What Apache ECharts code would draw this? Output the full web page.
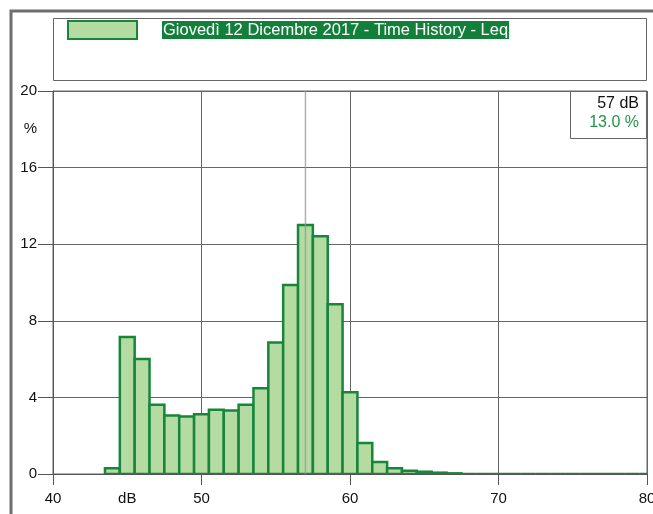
<!DOCTYPE html>
<html>
<head>
<meta charset="utf-8">
<script src="https://cdn.jsdelivr.net/npm/echarts@6/dist/echarts.min.js"></script>
<style>
html,body{margin:0;padding:0;background:#fff;}
#chart{width:653px;height:514px;}
</style>
</head>
<body>
<div id="chart"></div>
<script>
// ---- data ----
var seriesName = 'Giovedì 12 Dicembre 2017 - Time History - Leq';
var dbLevels = [44,45,46,47,48,49,50,51,52,53,54,55,56,57,58,59,60,61,62,63,64,65,66,67,68,69,70,71,72,73,74,75,76,77,78,79,80];
var percents = [0.3,7.15,6.0,3.62,3.05,3.0,3.12,3.35,3.32,3.62,4.48,6.87,9.87,13.0,12.42,8.87,4.27,1.62,0.63,0.3,0.17,0.12,0.07,0.035,0,0,0,0,0,0,0,0,0,0,0,0,0];
var xTickLabels = [40,50,60,70,80];
var yTickLabels = [0,4,8,12,16,20];
var xUnit = 'dB', yUnit = '%';
var xUnitAt = 45, yUnitAt = 18;
var cursorDb = 57, cursorPct = 13.0;

var barData = dbLevels.map(function(d,i){return [d, percents[i]];});
var cursorLine = [[cursorDb, 0],[cursorDb, 20]];

var fillGreen = '#b4dca2', strokeGreen = '#17853b';
var font = 'Liberation Sans, Arial, sans-serif';

var chart = echarts.init(document.getElementById('chart'));
chart.setOption({
  animation: false,
  backgroundColor: '#fff',
  textStyle: {fontFamily: font},
  graphic: [
    {type:'rect', z:-10, shape:{x:11, y:11, width:700, height:600}, style:{fill:'none', stroke:'#6e6e6e', lineWidth:3}},
    {type:'rect', z:-10, shape:{x:53.5, y:18.5, width:593, height:62}, style:{fill:'#fff', stroke:'#666', lineWidth:1}},
    {type:'group', z:100, children:[
      {type:'rect', shape:{x:570.5, y:91.5, width:76, height:47}, style:{fill:'#fff', stroke:'#666', lineWidth:1}},
      {type:'text', style:{x:639, y:96, text: cursorDb + ' dB', fill:'#111', font:'16px ' + font, textAlign:'right', textVerticalAlign:'top'}},
      {type:'text', style:{x:639, y:115, text: cursorPct.toFixed(1) + ' %', fill:'#1f9447', font:'16px ' + font, textAlign:'right', textVerticalAlign:'top'}}
    ]}
  ],
  legend: {
    left: 67, top: 20, padding: 0,
    itemWidth: 69, itemHeight: 18, itemGap: 0,
    selectedMode: false,
    data: [{name: seriesName, icon: 'rect', itemStyle:{color: fillGreen, borderColor: strokeGreen, borderWidth: 2}}],
    formatter: function(n){ return '{g|}{t|' + n + '}'; },
    textStyle: {
      fontFamily: font, fontSize: 16.5,
      rich: {
        g: {width: 20},
        t: {backgroundColor: '#12803b', color: '#fff', fontSize: 16.5, fontFamily: font, padding: [1, 1, 0, 1]}
      }
    }
  },
  grid: {left: 53, top: 91, right: 6, bottom: 40, show: true, borderColor: '#666', borderWidth: 1, containLabel: false, outerBoundsMode: 'none'},
  xAxis: {
    type: 'value', min: 40, max: 80, interval: 10,
    axisLine: {show: true, lineStyle: {color: '#555', width: 1}},
    axisTick: {show: true, length: 11, lineStyle: {color: '#555'}},
    axisLabel: {
      customValues: xTickLabels.concat([xUnitAt]),
      margin: 17, color: '#111', fontSize: 15, fontFamily: font,
      formatter: function(v){ return v === xUnitAt ? xUnit : String(v); }
    },
    splitLine: {show: true, lineStyle: {color: '#666', width: 1}}
  },
  yAxis: {
    type: 'value', min: 0, max: 20, interval: 4,
    axisLine: {show: true, lineStyle: {color: '#555', width: 1}},
    axisTick: {show: true, length: 15, lineStyle: {color: '#555'}},
    axisLabel: {
      customValues: yTickLabels.concat([yUnitAt]),
      margin: 16, color: '#111', fontSize: 15, fontFamily: font,
      formatter: function(v){ return v === yUnitAt ? yUnit : String(v); }
    },
    splitLine: {show: true, lineStyle: {color: '#666', width: 1}}
  },
  series: [
    {
      name: seriesName,
      type: 'custom',
      clip: true,
      data: barData,
      itemStyle: {color: fillGreen, borderColor: strokeGreen},
      renderItem: function(params, api){
        var x = api.value(0), y = api.value(1);
        var p0 = api.coord([x - 0.5, y]);
        var p1 = api.coord([x + 0.5, 0]);
        return {
          type: 'rect',
          shape: {x: p0[0], y: p0[1], width: p1[0] - p0[0], height: p1[1] - p0[1]},
          style: {fill: fillGreen, stroke: strokeGreen, lineWidth: 2.5}
        };
      },
      z: 3
    },
    {
      name: 'cursor',
      type: 'line',
      data: cursorLine,
      symbol: 'none',
      silent: true,
      lineStyle: {color: 'rgba(150,150,150,0.75)', width: 1.5},
      z: 5
    }
  ]
});
</script>
</body>
</html>
